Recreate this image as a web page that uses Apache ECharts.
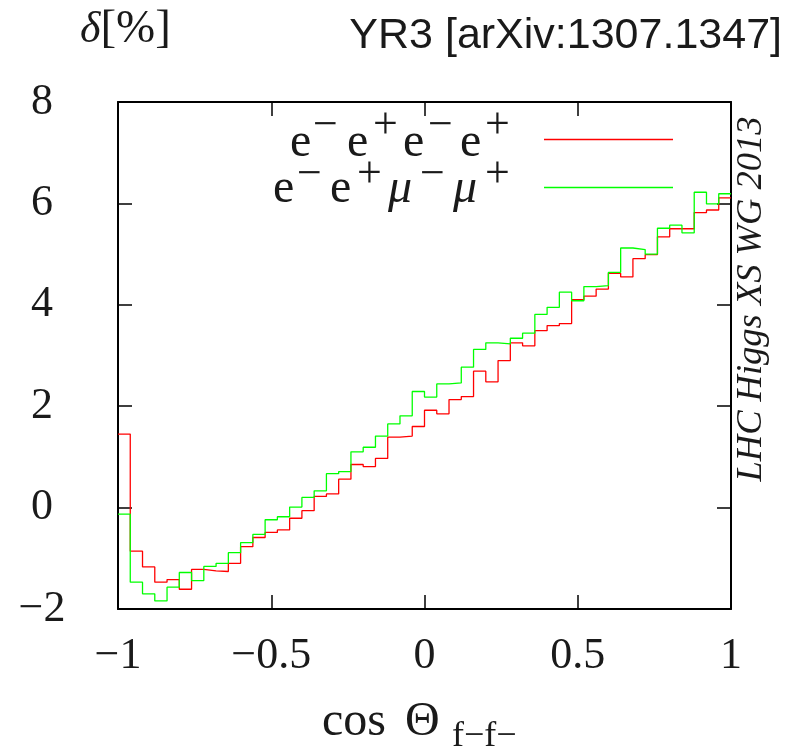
<!DOCTYPE html>
<html><head><meta charset="utf-8">
<script src="https://cdn.jsdelivr.net/npm/echarts@6/dist/echarts.min.js"></script>
<style>html,body{margin:0;padding:0;background:#fff}#c{width:791px;height:755px}</style>
</head><body><div id="c"></div>
<script>
// ---- data ----
const xTicks = [-1, -0.5, 0, 0.5, 1];
const yTicks = [-2, 0, 2, 4, 6, 8];
const binStart = -1;
const binWidth = 0.04;
const eeee = [1.45, -0.86, -1.17, -1.47, -1.42, -1.61, -1.22, -1.25, -1.26, -1.10,
              -0.77, -0.59, -0.49, -0.44, -0.21, -0.06, 0.22, 0.27, 0.56, 0.85,
              0.81, 0.97, 1.39, 1.41, 1.60, 1.92, 1.85, 2.13, 2.19, 2.69,
              2.48, 2.90, 3.25, 3.19, 3.49, 3.59, 3.63, 4.10, 4.17, 4.31,
              4.62, 4.55, 4.91, 4.99, 5.34, 5.50, 5.50, 5.82, 5.87, 6.11];
const eemm = [-0.13, -1.47, -1.70, -1.84, -1.57, -1.28, -1.44, -1.16, -1.10, -0.89,
              -0.69, -0.53, -0.24, -0.18, 0.01, 0.20, 0.33, 0.67, 0.71, 1.10,
              1.19, 1.41, 1.65, 1.81, 2.29, 2.18, 2.44, 2.46, 2.77, 3.12,
              3.25, 3.23, 3.34, 3.44, 3.81, 3.95, 4.25, 4.08, 4.36, 4.38,
              4.64, 5.12, 5.09, 5.00, 5.51, 5.57, 5.42, 6.22, 5.99, 6.19];
const legendLabels = [
  [['e', 'b'], ['\u2212', 's'], ['e', 'b'], ['+', 's'], ['e', 'b'], ['\u2212', 's'], ['e', 'b'], ['+', 's']],
  [['e', 'b'], ['\u2212', 's'], ['e', 'b'], ['+', 's'], ['μ', 'm'], ['\u2212', 's'], ['μ', 'm'], ['+', 's']]
];

function toPts(vals) {
  const pts = vals.map((v, i) => [binStart + i * binWidth, v]);
  pts.push([binStart + vals.length * binWidth, vals[vals.length - 1]]);
  return pts;
}
const fmt = v => String(v).replace('-', '\u2212');
const SERIF = "'Liberation Serif', 'DejaVu Serif', serif";
const INK = '#1a1a1a';

const chart = echarts.init(document.getElementById('c'), null, {renderer: 'canvas'});

const axisCommon = {
  axisLine: {show: true, onZero: false, lineStyle: {color: '#000', width: 2}},
  axisTick: {show: true, inside: true, length: 14, lineStyle: {color: '#000', width: 1.5}},
  splitLine: {show: false},
  minorTick: {show: false}
};

// legend glyph layout (x of each glyph, per line)
const legendX = [
  [290, 313, 347, 373, 403, 428, 460, 485],
  [273, 297, 330, 357, 388, 420, 453, 485]
];
const legendBaseY = [143, 189.5];
const legendSupY = [126, 175];
const legendGraphics = [];
legendLabels.forEach((line, li) => {
  line.forEach((g, gi) => {
    const isSup = g[1] === 's';
    legendGraphics.push({
      type: 'text', x: legendX[li][gi], y: isSup ? legendSupY[li] : legendBaseY[li],
      style: {text: g[0], fontFamily: SERIF, fontSize: isSup ? 44 : 48,
              fontStyle: g[1] === 'm' ? 'italic' : 'normal',
              fill: INK, align: 'left', verticalAlign: 'middle'}
    });
  });
});

const option = {
  animation: false,
  backgroundColor: '#fff',
  grid: {left: 118, right: 60, top: 102, bottom: 146, containLabel: false},
  xAxis: [
    Object.assign({}, axisCommon, {
      type: 'value', min: -1, max: 1, interval: 0.5, position: 'bottom',
      axisLabel: {show: true, formatter: v => xTicks.includes(v) ? fmt(v) : '', fontFamily: SERIF, fontSize: 44,
                  color: INK, margin: 47, verticalAlign: 'middle'}
    }),
    Object.assign({}, axisCommon, {
      type: 'value', min: -1, max: 1, interval: 0.5, position: 'top',
      axisLabel: {show: false}
    })
  ],
  yAxis: [
    Object.assign({}, axisCommon, {
      type: 'value', min: -2, max: 8, interval: 2, position: 'left',
      axisLabel: {show: true, formatter: v => yTicks.includes(v) ? fmt(v) : '', fontFamily: SERIF, fontSize: 44,
                  color: INK, margin: 76, align: 'center'}
    }),
    Object.assign({}, axisCommon, {
      type: 'value', min: -2, max: 8, interval: 2, position: 'right',
      axisLabel: {show: false}
    })
  ],
  series: [
    {type: 'line', name: 'eeee', step: 'end', data: toPts(eeee), showSymbol: false, symbol: 'none',
     lineStyle: {color: '#ff0000', width: 1.3}, xAxisIndex: 0, yAxisIndex: 0, z: 3},
    {type: 'line', name: 'eemm', step: 'end', data: toPts(eemm), showSymbol: false, symbol: 'none',
     lineStyle: {color: '#00ff00', width: 1.3}, xAxisIndex: 0, yAxisIndex: 0, z: 4}
  ],
  graphic: [
    {type: 'text', x: 80, y: 30, style: {text: '{d|δ}{b|[%]}', verticalAlign: 'middle', align: 'left',
      rich: {d: {fontFamily: SERIF, fontSize: 44, fontStyle: 'italic', fill: INK},
             b: {fontFamily: SERIF, fontSize: 47, fill: INK}}}},
    {type: 'text', x: 782, y: 36, style: {text: 'YR3 [arXiv:1307.1347]', fontFamily: "'Liberation Sans', Arial, sans-serif",
      fontSize: 43, fill: INK, align: 'right', verticalAlign: 'middle'}},
    {type: 'text', x: 751, y: 299, rotation: Math.PI / 2, style: {text: 'LHC Higgs XS WG 2013', fontFamily: SERIF,
      fontStyle: 'italic', fontSize: 36.5, fill: INK, align: 'center', verticalAlign: 'middle'}},
    {type: 'text', x: 322, y: 722, style: {text: 'cos', fontFamily: SERIF, fontSize: 48, fill: INK,
      align: 'left', verticalAlign: 'middle'}},
    {type: 'text', x: 405, y: 722, style: {text: 'Θ', fontFamily: SERIF, fontSize: 48, fill: INK,
      align: 'left', verticalAlign: 'middle'}},
    {type: 'text', x: 452, y: 737, style: {text: 'f\u2212f\u2212', fontFamily: SERIF, fontSize: 36, fill: INK,
      align: 'left', verticalAlign: 'middle'}},
    {type: 'line', shape: {x1: 544, y1: 139.5, x2: 673, y2: 139.5}, style: {stroke: '#ff0000', lineWidth: 1.3}},
    {type: 'line', shape: {x1: 544, y1: 187.5, x2: 673, y2: 187.5}, style: {stroke: '#00ff00', lineWidth: 1.3}}
  ].concat(legendGraphics)
};
chart.setOption(option);
</script>
</body></html>
